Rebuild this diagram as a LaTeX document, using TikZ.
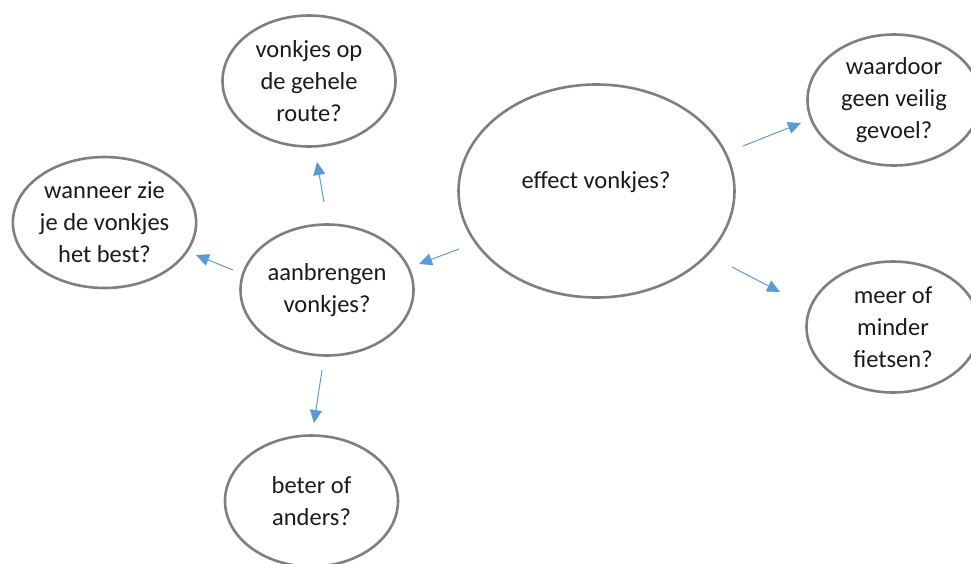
\documentclass[tikz,border=0pt]{standalone}
\usepackage{fontspec}
\setmainfont{Carlito}
\usetikzlibrary{shapes.geometric,arrows.meta}
\definecolor{ovalgray}{HTML}{7F7F7F}
\definecolor{arrblue}{HTML}{5B9BD5}
\definecolor{txtc}{HTML}{1A1A1A}
\tikzset{
  oval/.style={ellipse, draw=ovalgray, line width=2.6pt, fill=white, inner sep=0pt,
    minimum width=173pt, minimum height=131pt, align=center, text=txtc,
    font=\fontsize{24.5pt}{32pt}\selectfont},
  txt/.style={align=center, text=txtc, font=\fontsize{24.5pt}{32pt}\selectfont, inner sep=0pt},
  arr/.style={draw=arrblue, line width=1pt, -{Triangle[length=13pt,width=12pt]}, arrblue}
}
\begin{document}
\begin{tikzpicture}[x=1pt,y=-1pt]
\useasboundingbox (0,0) rectangle (971,563);
\clip (0,0) rectangle (971,563);
\node[oval] (route) at (309,81) {vonkjes op\\de gehele\\route?};
\node[oval] (wanneer) at (104.5,222.5) {wanneer zie\\je de vonkjes\\het best?};
\node[oval] (aan) at (327,290) {aanbrengen\\vonkjes?};
\node[oval, minimum width=276pt, minimum height=213pt] (effect) at (596.5,191) {};
\node[txt] (effecttxt) at (596,182) {effect vonkjes?};
\node[oval] (waardoor) at (894,100) {waardoor\\geen veilig\\gevoel?};
\node[oval] (meer) at (893,327) {meer of\\minder\\fietsen?};
\node[oval] (beter) at (311.5,501) {beter of\\anders?};
% arrow end points
\coordinate (a1s) at (324,202); \coordinate (a1e) at (317,162);
\coordinate (a2s) at (233,270); \coordinate (a2e) at (196,255);
\coordinate (a3s) at (322,370); \coordinate (a3e) at (314,423);
\coordinate (a4s) at (459,249); \coordinate (a4e) at (419,264);
\coordinate (a5s) at (743,146); \coordinate (a5e) at (801,123);
\coordinate (a6s) at (732,267); \coordinate (a6e) at (780,292);
\draw[arr] (a1s) -- (a1e);
\draw[arr] (a2s) -- (a2e);
\draw[arr] (a3s) -- (a3e);
\draw[arr] (a4s) -- (a4e);
\draw[arr] (a5s) -- (a5e);
\draw[arr] (a6s) -- (a6e);
\end{tikzpicture}
\end{document}
